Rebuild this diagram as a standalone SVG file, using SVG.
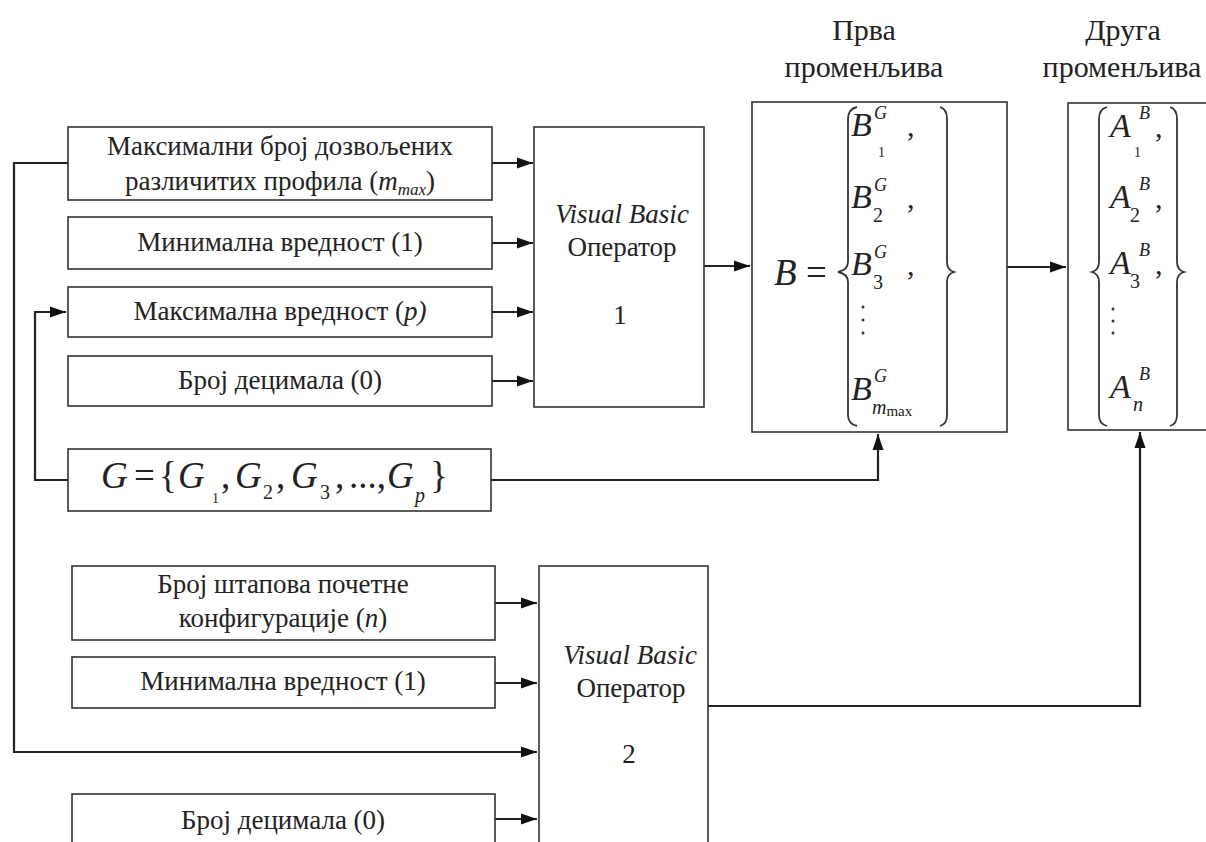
<svg xmlns="http://www.w3.org/2000/svg" width="1206" height="842" viewBox="0 0 1206 842">
<defs>
<style>
.box{fill:#fff;stroke:#333;stroke-width:1.6}
.t{font-size:27px;fill:#222;text-anchor:middle}
.ttl{font-size:30px;fill:#222;text-anchor:middle}
.m{fill:#222}
.i{font-style:italic}
.c{fill:none;stroke:#222;stroke-width:2.2}
.br{fill:none;stroke:#333;stroke-width:1.8}
</style>
<marker id="ah" markerUnits="userSpaceOnUse" markerWidth="18" markerHeight="12" refX="16" refY="6" orient="auto">
<path d="M0,0.5 L16,6 L0,11.5 z" fill="#111"/>
</marker>
</defs>
<rect width="1206" height="842" fill="#fff"/>

<g id="connectors">
<path class="c" d="M68,163 H14 V752 H537" marker-end="url(#ah)"/>
<path class="c" d="M68,480 H35 V312 H66" marker-end="url(#ah)"/>
<path class="c" d="M492,163 H533" marker-end="url(#ah)"/>
<path class="c" d="M492,243 H533" marker-end="url(#ah)"/>
<path class="c" d="M492,312 H533" marker-end="url(#ah)"/>
<path class="c" d="M492,381 H533" marker-end="url(#ah)"/>
<path class="c" d="M491,480 H878 V434" marker-end="url(#ah)"/>
<path class="c" d="M704,266 H750" marker-end="url(#ah)"/>
<path class="c" d="M1007,267 H1066" marker-end="url(#ah)"/>
<path class="c" d="M708,706 H1140 V432" marker-end="url(#ah)"/>
<path class="c" d="M495,603 H537" marker-end="url(#ah)"/>
<path class="c" d="M495,683 H537" marker-end="url(#ah)"/>
<path class="c" d="M495,819 H537" marker-end="url(#ah)"/>
</g>

<g font-family="'Liberation Serif', 'Times New Roman', 'DejaVu Serif', serif">
<g id="title1">
<text class="ttl" x="864" y="40">Прва</text>
<text class="ttl" x="864" y="77">променљива</text>
</g>
<g id="title2">
<text class="ttl" x="1123" y="40">Друга</text>
<text class="ttl" x="1122" y="77">променљива</text>
</g>

<g id="n-mmax">
<rect class="box" x="68" y="127" width="424" height="73"/>
<text class="t" x="280" y="155">Максимални број дозвољених</text>
<text class="t" x="280" y="190">различитих профила (<tspan class="i">m</tspan><tspan class="i" font-size="17" dy="5">max</tspan><tspan dy="-5">)</tspan></text>
</g>
<g id="n-min1">
<rect class="box" x="68" y="217" width="424" height="52"/>
<text class="t" x="280" y="251">Минимална вредност (1)</text>
</g>
<g id="n-maxp">
<rect class="box" x="68" y="287" width="424" height="50"/>
<text class="t" x="280" y="320">Максимална вредност (<tspan class="i">p)</tspan></text>
</g>
<g id="n-dec1">
<rect class="box" x="68" y="356" width="424" height="50"/>
<text class="t" x="280" y="389">Број децимала (0)</text>
</g>

<g id="op1">
<rect class="box" x="534" y="127" width="170" height="280"/>
<text class="t i" x="622" y="223">Visual Basic</text>
<text class="t" x="622" y="256">Оператор</text>
<text class="t" x="620" y="324">1</text>
</g>

<g id="bset">
<rect class="box" x="752" y="102" width="255" height="330"/>
<text class="m i" x="774" y="285" font-size="37">B</text>
<text class="m" x="806" y="285" font-size="37">=</text>
<path class="br" d="M857,107 Q848,109 848,119 L848,262 Q848,270 838,272 Q848,274 848,282 L848,415 Q848,424 857,426"/>
<path class="br" d="M940,107 Q947,109 947,119 L947,262 Q947,270 954,272 Q947,274 947,282 L947,415 Q947,424 940,426"/>
<text class="m i" x="851" y="136" font-size="34">B</text>
<text class="m i" x="874" y="119" font-size="18">G</text>
<text class="m" x="878" y="157" font-size="14">1</text>
<text class="m" x="907" y="136" font-size="30">,</text>
<text class="m i" x="851" y="208" font-size="34">B</text>
<text class="m i" x="874" y="191" font-size="18">G</text>
<text class="m" x="873" y="222" font-size="20">2</text>
<text class="m" x="907" y="208" font-size="30">,</text>
<text class="m i" x="851" y="275" font-size="34">B</text>
<text class="m i" x="874" y="258" font-size="18">G</text>
<text class="m" x="873" y="289" font-size="20">3</text>
<text class="m" x="907" y="275" font-size="30">,</text>
<circle cx="863" cy="307" r="1.5" fill="#333"/>
<circle cx="863" cy="320" r="1.5" fill="#333"/>
<circle cx="863" cy="333" r="1.5" fill="#333"/>
<text class="m i" x="851" y="400" font-size="34">B</text>
<text class="m i" x="874" y="382" font-size="18">G</text>
<text class="m" x="872" y="414" font-size="20"><tspan class="i">m</tspan><tspan font-size="15" dy="2">max</tspan></text>
</g>

<g id="aset">
<rect class="box" x="1068" y="103" width="150" height="327"/>
<path class="br" d="M1107,107 Q1099,109 1099,119 L1099,262 Q1099,270 1092,272 Q1099,274 1099,282 L1099,415 Q1099,424 1107,426"/>
<path class="br" d="M1170,107 Q1177,109 1177,119 L1177,262 Q1177,270 1184,272 Q1177,274 1177,282 L1177,415 Q1177,424 1170,426"/>
<text class="m i" x="1110" y="137" font-size="34">A</text>
<text class="m i" x="1139" y="119" font-size="18">B</text>
<text class="m" x="1134" y="157" font-size="14">1</text>
<text class="m" x="1155" y="137" font-size="30">,</text>
<text class="m i" x="1110" y="208" font-size="34">A</text>
<text class="m i" x="1139" y="190" font-size="18">B</text>
<text class="m" x="1130" y="222" font-size="20">2</text>
<text class="m" x="1155" y="208" font-size="30">,</text>
<text class="m i" x="1110" y="274" font-size="34">A</text>
<text class="m i" x="1139" y="256" font-size="18">B</text>
<text class="m" x="1130" y="288" font-size="20">3</text>
<text class="m" x="1155" y="274" font-size="30">,</text>
<circle cx="1113" cy="309" r="1.5" fill="#333"/>
<circle cx="1113" cy="321" r="1.5" fill="#333"/>
<circle cx="1113" cy="333" r="1.5" fill="#333"/>
<text class="m i" x="1110" y="398" font-size="34">A</text>
<text class="m i" x="1139" y="380" font-size="18">B</text>
<text class="m i" x="1133" y="411" font-size="20">n</text>
</g>

<g id="gset">
<rect class="box" x="68" y="449" width="423" height="62"/>
<text class="m" font-size="37" y="488"><tspan class="i" x="101">G</tspan><tspan x="134">=</tspan><tspan x="159">{</tspan><tspan class="i" x="178">G</tspan><tspan x="221">,</tspan><tspan class="i" x="235">G</tspan><tspan x="276">,</tspan><tspan class="i" x="291">G</tspan><tspan x="335">,</tspan><tspan x="349">...,</tspan><tspan class="i" x="387">G</tspan><tspan x="430">}</tspan></text>
<text class="m" x="212" y="503" font-size="14">1</text>
<text class="m" x="263" y="499" font-size="20">2</text>
<text class="m" x="320" y="499" font-size="20">3</text>
<text class="m i" x="415" y="502" font-size="20">p</text>
</g>

<g id="n-n">
<rect class="box" x="72" y="566" width="423" height="74"/>
<text class="t" x="283" y="593">Број штапова почетне</text>
<text class="t" x="283" y="627">конфигурације (<tspan class="i">n</tspan>)</text>
</g>
<g id="n-min2">
<rect class="box" x="72" y="657" width="423" height="51"/>
<text class="t" x="283" y="690">Минимална вредност (1)</text>
</g>
<g id="n-dec2">
<rect class="box" x="72" y="794" width="423" height="60"/>
<text class="t" x="283" y="829">Број децимала (0)</text>
</g>

<g id="op2">
<rect class="box" x="539" y="566" width="169" height="290"/>
<text class="t i" x="630" y="664">Visual Basic</text>
<text class="t" x="631" y="697">Оператор</text>
<text class="t" x="629" y="763">2</text>
</g>
</g>
</svg>
